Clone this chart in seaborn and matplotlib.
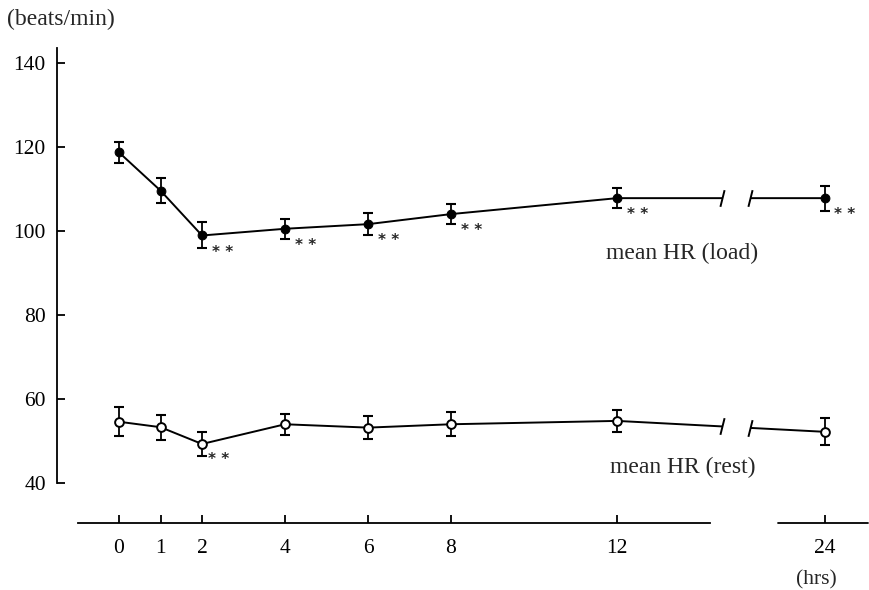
import numpy as np
import pandas as pd
import matplotlib
matplotlib.use("Agg")
import matplotlib.pyplot as plt
import seaborn as sns

# ---- data ----
hours = [0, 1, 2, 4, 6, 8, 12, 24]
hr_load = [118.8, 109.7, 99.0, 100.6, 101.7, 104.1, 107.9, 107.9]
hr_load_err = [2.5, 3.0, 3.1, 2.4, 2.6, 2.3, 2.3, 3.0]
hr_rest = [54.6, 53.3, 49.3, 54.0, 53.2, 54.0, 54.8, 52.2]
hr_rest_err = [3.4, 3.0, 2.9, 2.5, 2.8, 2.9, 2.7, 3.2]
load_sig = [False, False, True, True, True, True, True, True]
rest_sig = [False, False, True, False, False, False, False, False]
yticks = [40, 60, 80, 100, 120, 140]
series_labels = ["mean HR (load)", "mean HR (rest)"]

# broken x axis: hours after 12 are compressed
def xpos(h):
    return h if h <= 12 else h - 7

pos = np.array([xpos(h) for h in hours], dtype=float)

sns.set_theme(style="white")
plt.rcParams["font.family"] = ["Liberation Serif", "DejaVu Serif"]

fig = plt.figure(figsize=(8.69, 5.90), dpi=100)
ax = fig.add_axes([57/869, 1 - 540/590, (869 - 57)/869, (540 - 47)/590])
ax.set_facecolor("white")

df = pd.DataFrame({
    "pos": np.concatenate([pos, pos]),
    "hr": hr_load + hr_rest,
    "series": [series_labels[0]]*len(hours) + [series_labels[1]]*len(hours),
})

lw = 1.4
sns.lineplot(data=df[df.series == series_labels[0]], x="pos", y="hr", ax=ax,
             color="black", lw=lw, marker="o", markersize=6.3,
             markerfacecolor="black", markeredgecolor="black", zorder=3,
             legend=False)
sns.lineplot(data=df[df.series == series_labels[1]], x="pos", y="hr", ax=ax,
             color="black", lw=lw, marker="o", markersize=6.3,
             markerfacecolor="white", markeredgecolor="black",
             markeredgewidth=1.4, zorder=3, legend=False)

ax.errorbar(pos, hr_load, yerr=hr_load_err, fmt="none", ecolor="black",
            elinewidth=1.3, capsize=3.4, capthick=1.5, zorder=2)
ax.errorbar(pos, hr_rest, yerr=hr_rest_err, fmt="none", ecolor="black",
            elinewidth=1.3, capsize=3.4, capthick=1.5, zorder=2)

# break in the lines between 12 and 24
gap_l, gap_r = 14.52, 15.2
ax.axvspan(gap_l, gap_r, ymin=0.1, ymax=1, color="white", zorder=4, lw=0)
slash = [(-0.25, -1), (0.25, 1)]
for vals in (hr_load, hr_rest):
    for gx in (gap_l, gap_r):
        ax.plot([gx], [np.interp(gx, pos, vals)], marker=slash, markersize=12,
                mew=1.4, color="black", zorder=5, ls="none")

# significance marks
for p, v, s in zip(pos, hr_load, load_sig):
    if s:
        ax.annotate("* *", (p, v), xytext=(7, -12), textcoords="offset points",
                    fontsize=11, ha="left", va="center", family="DejaVu Sans",
                    fontweight="bold", zorder=6)
for p, v, s in zip(pos, hr_rest, rest_sig):
    if s:
        ax.annotate("* *", (p, v), xytext=(4, -11), textcoords="offset points",
                    fontsize=11, ha="left", va="center", family="DejaVu Sans",
                    fontweight="bold", zorder=6)

# axes / spines (configure spine position before tick styling)
for sp in ("top", "right"):
    ax.spines[sp].set_visible(False)
ax.spines["left"].set_bounds(40, 143.7)
ax.spines["left"].set_linewidth(1.3)
ax.spines["left"].set_color("black")
ax.spines["bottom"].set_position(("data", 30.4))
ax.spines["bottom"].set_bounds(-0.99, 14.24)
ax.spines["bottom"].set_linewidth(1.3)
ax.spines["bottom"].set_color("black")
ax.plot([15.88, 18.05], [30.4, 30.4], color="black", lw=1.3, clip_on=False)

ax.set_xlim(-1.494, 18.07)
ax.set_ylim(26.41, 143.93)
ax.set_yticks(yticks)
ax.set_yticklabels([str(t) for t in yticks])
ax.set_xticks(pos)
ax.set_xticklabels([str(h) for h in hours])
ax.tick_params(axis="y", which="major", left=True, direction="in", length=6,
               width=1.3, pad=8, colors="black", labelsize=15.5)
ax.tick_params(axis="x", which="major", bottom=True, direction="in", length=5.5,
               width=1.3, pad=11, colors="black", labelsize=15.5)
ax.set_xlabel("")
ax.set_ylabel("")

# texts
ax.text(11.73, 94.8, series_labels[0], fontsize=17, ha="left", va="center", zorder=7)
ax.text(11.83, 43.8, series_labels[1], fontsize=17, ha="left", va="center", zorder=7)
fig.text(7/869, 1 - 19/590, "(beats/min)", fontsize=17, ha="left", va="center")
fig.text(816/869, 1 - 580/590, "(hrs)", fontsize=15.5, ha="center", va="center")

fig.savefig("out.png", dpi=100, facecolor="white")
